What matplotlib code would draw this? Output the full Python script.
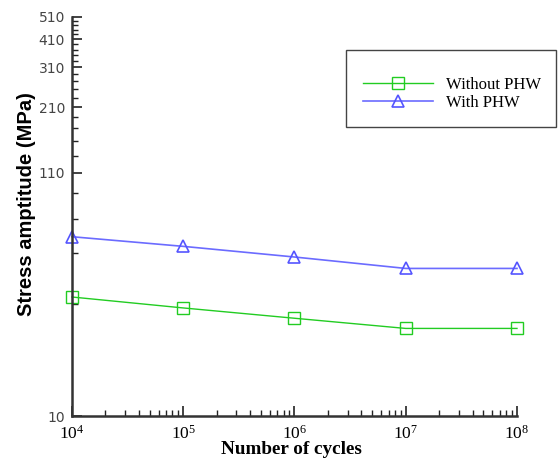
import matplotlib
matplotlib.use("Agg")
import matplotlib.pyplot as plt
from matplotlib.patches import Rectangle
from matplotlib.ticker import NullFormatter

plt.rcParams["mathtext.fontset"] = "custom"
plt.rcParams["mathtext.rm"] = "Liberation Serif"
plt.rcParams["mathtext.it"] = "Liberation Serif:italic"
plt.rcParams["mathtext.bf"] = "Liberation Serif:bold"

cycles = [1e4, 1e5, 1e6, 1e7, 1e8]
without_phw = [32.3, 29.0, 26.2, 23.7, 23.7]
with_phw = [58.5, 53.2, 47.9, 42.8, 42.8]
y_major = [10, 110, 210, 310, 410, 510]
x_labels = [r"$\mathrm{10^{4}}$", r"$\mathrm{10^{5}}$", r"$\mathrm{10^{6}}$",
            r"$\mathrm{10^{7}}$", r"$\mathrm{10^{8}}$"]

fig = plt.figure(figsize=(5.58, 4.58), dpi=100)
ax = fig.add_axes([0.129, 0.0917, 0.7975, 0.8713])

ax.plot(cycles, without_phw, color="#22cc22", lw=1.0, marker="s", ms=8,
        mfc="none", mec="#22cc22", mew=1.0, label="Without PHW", clip_on=False)
ax.plot(cycles, with_phw, color="#6b6bff", lw=1.2, marker="^", ms=9,
        mfc="none", mec="#5555ff", mew=1.2, label="With PHW", clip_on=False)

ax.set_xscale("log")
ax.set_yscale("log")
ax.set_xlim(1e4, 1e8)
ax.set_ylim(10, 510)

ax.set_xticks(cycles)
ax.set_xticklabels(x_labels)
ax.set_yticks(y_major)
ax.set_yticklabels([str(v) for v in y_major])
ax.set_yticks([v for v in range(30, 510, 20) if v not in y_major], minor=True)
ax.yaxis.set_minor_formatter(NullFormatter())
ax.xaxis.set_minor_formatter(NullFormatter())

for s in ["top", "right"]:
    ax.spines[s].set_visible(False)
for s in ["left", "bottom"]:
    ax.spines[s].set_linewidth(1.8)
    ax.spines[s].set_color("#333333")

ax.tick_params(axis="both", which="major", direction="in", length=7, width=1.2, color="#222222")
ax.tick_params(axis="both", which="minor", direction="in", length=4, width=1.0, color="#222222")
ax.tick_params(axis="y", labelsize=10, labelcolor="#444444", pad=5)
ax.tick_params(axis="x", labelsize=12.5, pad=6)

ax.set_xlabel("Number of cycles", fontsize=13.8, fontweight="bold",
              family="Liberation Serif")
ax.xaxis.set_label_coords(0.494, -0.063)
ax.set_ylabel("Stress amptitude (MPa)", fontsize=14.5, fontweight="bold",
              family="Liberation Sans")
ax.yaxis.set_label_coords(-0.081, 0.530)

fig.patches.append(Rectangle((0.620, 0.7227), 0.376, 0.168, transform=fig.transFigure,
                             fill=False, edgecolor="#444444", lw=1.0))
leg = ax.legend(loc="upper left", bbox_to_anchor=(0.623, 0.865),
                bbox_transform=fig.transFigure, frameon=False,
                prop={"family": "Liberation Serif", "size": 12},
                handlelength=4.2, handletextpad=0.8, labelspacing=0.15)

fig.savefig("out.png", dpi=100)
